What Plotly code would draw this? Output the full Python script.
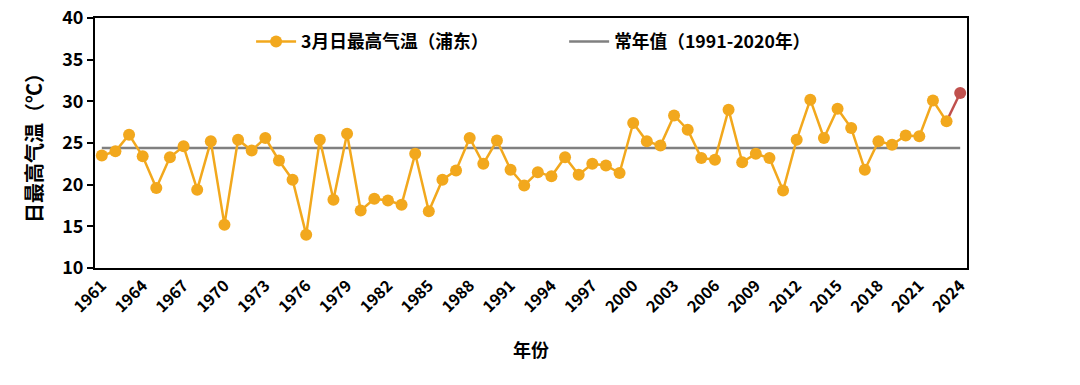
import plotly.graph_objects as go

years = list(range(1961, 2025))
tmax = [23.5, 24.0, 26.0, 23.4, 19.6, 23.3, 24.6, 19.4, 25.2, 15.2,
        25.4, 24.1, 25.6, 22.9, 20.6, 14.0, 25.4, 18.2, 26.1, 16.9,
        18.3, 18.1, 17.6, 23.7, 16.8, 20.6, 21.7, 25.6, 22.5, 25.3,
        21.8, 19.9, 21.5, 21.0, 23.3, 21.2, 22.5, 22.3, 21.4, 27.4,
        25.2, 24.7, 28.3, 26.6, 23.2, 23.0, 29.0, 22.7, 23.7, 23.2,
        19.3, 25.4, 30.2, 25.6, 29.1, 26.8, 21.8, 25.2, 24.8, 25.9,
        25.8, 30.1, 27.6, 31.0]
normal_value = 24.4
normal_label = "常年值（1991-2020年）"
series_label = "3月日最高气温（浦东）"
tick_years = years[::3]

ORANGE = "#F2A81D"
RED = "#C0504D"
GRAY = "#808080"
FONT = "Noto Sans CJK SC"

fig = go.Figure()

fig.add_trace(go.Scatter(
    x=[years[0], years[-1]], y=[normal_value, normal_value],
    mode="lines", line=dict(color=GRAY, width=2.5),
    name=normal_label, legend="legend2", hoverinfo="skip"))

fig.add_trace(go.Scatter(
    x=years[-2:], y=tmax[-2:], mode="lines",
    line=dict(color=RED, width=2.5), showlegend=False))

fig.add_trace(go.Scatter(
    x=years[:-1], y=tmax[:-1], mode="lines+markers",
    line=dict(color=ORANGE, width=2.5),
    marker=dict(color=ORANGE, size=12),
    name=series_label, legend="legend"))

fig.add_trace(go.Scatter(
    x=years[-1:], y=tmax[-1:], mode="markers",
    marker=dict(color=RED, size=12), showlegend=False))

fig.update_layout(
    width=1080, height=385,
    margin=dict(l=95, r=113, t=18, b=117, autoexpand=False),
    paper_bgcolor="white", plot_bgcolor="white",
    font=dict(family=FONT, size=15, color="#000000", weight="bold"),
    legend=dict(orientation="h", x=0.179, y=0.904, xanchor="left", yanchor="middle",
                font=dict(size=17.7, weight="bold"), bgcolor="rgba(0,0,0,0)", itemwidth=40),
    legend2=dict(orientation="h", x=0.538, y=0.904, xanchor="left", yanchor="middle",
                 font=dict(size=17.7, weight="bold"), bgcolor="rgba(0,0,0,0)", itemwidth=40),
    xaxis=dict(range=[1960.5, 2024.5], tickvals=tick_years, ticktext=[str(y) for y in tick_years],
               tickangle=-45, ticks="", showgrid=False, zeroline=False, automargin=False,
               showline=True, linecolor="#000000", linewidth=2, mirror=True,
               tickfont=dict(size=16, weight="bold"),
               title=dict(text="年份", font=dict(size=18, weight="bold"), standoff=28)),
    yaxis=dict(range=[10, 40], dtick=5, ticks="outside", ticklen=6, tickwidth=2,
               tickcolor="#000000", showgrid=False, zeroline=False, automargin=False,
               ticklabeloverflow="allow",
               showline=True, linecolor="#000000", linewidth=2, mirror=True,
               tickfont=dict(size=18, weight="bold"),
               title=dict(text="日最高气温（℃）", font=dict(size=20, weight="bold"), standoff=14)),
)

fig.write_html("out.html", config={"displayModeBar": False},
               post_script="document.body.style.margin='0';")
